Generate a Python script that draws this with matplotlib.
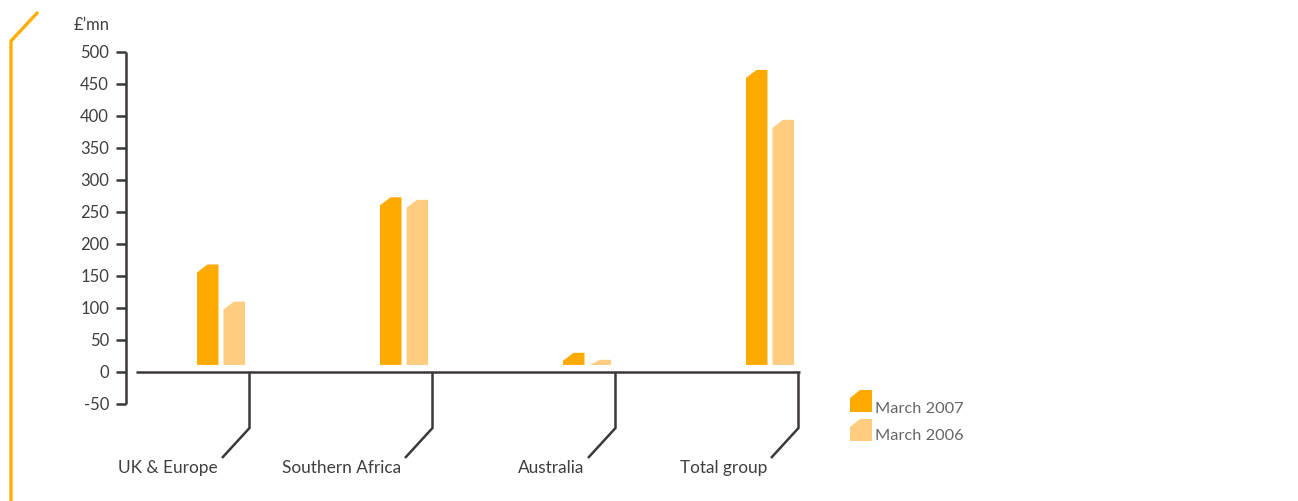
import matplotlib
matplotlib.use("Agg")
import matplotlib.pyplot as plt
from matplotlib.patches import Polygon
from matplotlib.lines import Line2D

# Data (£'mn)
categories = ["UK & Europe", "Southern Africa", "Australia", "Total group"]
series_names = ["March 2007", "March 2006"]
march_2007 = [168, 273, 30, 472]
march_2006 = [110, 269, 19, 394]
y_ticks = [-50, 0, 50, 100, 150, 200, 250, 300, 350, 400, 450, 500]

# Styling
W, H = 1298, 501
C2007 = "#FFAA00"
C2006 = "#FFCC80"
DARK = "#3d3838"
TEXT = "#3f3f3f"
LEG_TEXT = "#666666"
FONT = "Lato"

PX_X = 183.0    # pixels per category step
PX_Y = 0.64     # pixels per £'mn
X0_PX = 221.0   # pixel x of first category centre
Y0_PX = 372.0   # pixel y of zero line

fig = plt.figure(figsize=(W / 100, H / 100), dpi=100)
ax = fig.add_axes([0, 0, 1, 1])
ax.set_xlim(-X0_PX / PX_X, (W - X0_PX) / PX_X)
ax.set_ylim((Y0_PX - H) / PX_Y, Y0_PX / PX_Y)
ax.patch.set_alpha(0)

# Axes lines
for s in ("top", "right"):
    ax.spines[s].set_visible(False)
ax.spines["left"].set_position(("data", (126 - X0_PX) / PX_X))
ax.spines["left"].set_bounds(y_ticks[0], y_ticks[-1])
ax.spines["bottom"].set_position(("data", 0))
ax.spines["bottom"].set_bounds((136 - X0_PX) / PX_X, (800 - X0_PX) / PX_X)
for s in ("left", "bottom"):
    ax.spines[s].set_color(DARK)
    ax.spines[s].set_linewidth(1.8)
    ax.spines[s].set_capstyle("butt")
ax.set_xticks([])
ax.set_yticks(y_ticks)
ax.set_yticklabels([str(v) for v in y_ticks], fontfamily=FONT, fontsize=12, color=TEXT)
ax.tick_params(axis="y", direction="out", length=7.2, width=1.8, color=DARK, pad=5)

# Chamfered bars
bar_w = 21.5 / PX_X
offset = 13.25 / PX_X
base = 11.0                # bars float slightly above the zero line
cham_x = 10.5 / PX_X
cham_y = 8.0 / PX_Y


def chamfer_bar(xc, top, color):
    x0, x1 = xc - bar_w / 2, xc + bar_w / 2
    cy = min(cham_y, top - base)
    verts = [(x0, base), (x0, top - cy), (x0 + cham_x, top), (x1, top), (x1, base)]
    ax.add_patch(Polygon(verts, closed=True, facecolor=color, edgecolor="none", zorder=3))


for i, (a, b) in enumerate(zip(march_2007, march_2006)):
    chamfer_bar(i - offset, a, C2007)
    chamfer_bar(i + offset, b, C2006)

# Category leader lines and labels
drop_dx = 28.5 / PX_X
drop_y = (Y0_PX - 428) / PX_Y
diag_y = (Y0_PX - 458) / PX_Y
label_y = (Y0_PX - 468) / PX_Y
for i, name in enumerate(categories):
    xs = [i + drop_dx, i + drop_dx, i + 1.0 / PX_X]
    ys = [0, drop_y, diag_y]
    ax.add_line(Line2D(xs, ys, color=DARK, lw=1.8, solid_capstyle="butt",
                       solid_joinstyle="miter", zorder=2))
    ax.text(i - 3.0 / PX_X, label_y, name, ha="right", va="center",
            fontfamily=FONT, fontsize=12.4, color=TEXT)

# Unit label
ax.text((110 - X0_PX) / PX_X, (Y0_PX - 25) / PX_Y, "£’mn", ha="right", va="center",
        fontfamily=FONT, fontsize=12, color=TEXT)

# Legend with chamfered swatches
def fx(px):
    return px / W


def fy(py):
    return 1 - py / H


for (name, color, ytop, ty) in zip(series_names, [C2007, C2006], [390, 419], [409, 436]):
    x0, x1, y1 = 850, 872, ytop + 22
    verts = [(fx(x0), fy(y1)), (fx(x0), fy(ytop + 8)), (fx(x0 + 10), fy(ytop)),
             (fx(x1), fy(ytop)), (fx(x1), fy(y1))]
    fig.patches.append(Polygon(verts, closed=True, transform=fig.transFigure,
                               facecolor=color, edgecolor="none"))
    fig.text(fx(875), fy(ty), name, ha="left", va="center",
             fontfamily=FONT, fontsize=11.8, color=LEG_TEXT)

# Orange corner accent
fig.add_artist(Line2D([fx(11), fx(11), fx(38)], [fy(501), fy(41), fy(12)],
                      transform=fig.transFigure, color="#FFAE00", lw=2.4,
                      solid_joinstyle="miter", solid_capstyle="butt"))

fig.savefig("out.png", dpi=100)
